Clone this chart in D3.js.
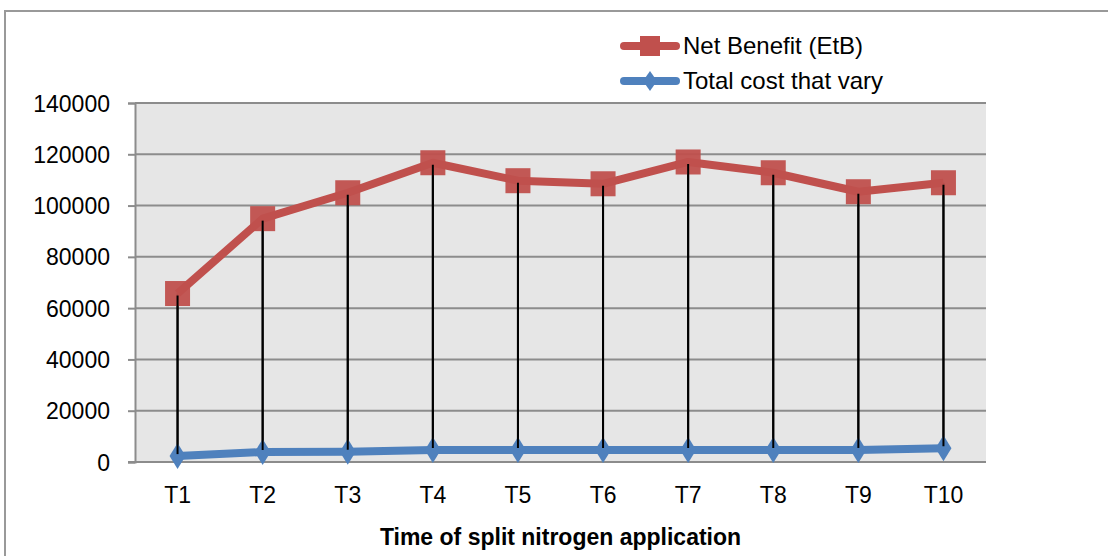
<!DOCTYPE html>
<html lang="en">
  <head>
    <script src="https://d3js.org/d3.v7.min.js"></script>
    <meta charset="utf-8"/>
    <title>Net benefit</title>
    <style>
      body { margin: 0; background: #fff; }
      text { font-family: "Liberation Sans", Arial, sans-serif; fill: #000; }
    </style>
  </head>
  <body>
    <svg id="chart"></svg>
  <script>
    const treatments = ["T1", "T2", "T3", "T4", "T5", "T6", "T7", "T8", "T9", "T10"];
    const netBenefit = [65700, 94900, 105000, 116700, 109700, 108500, 117000, 112800, 105400, 108900];
    const totalCost = [2300, 3900, 4000, 4700, 4700, 4700, 4700, 4700, 4700, 5400];
    const yTicks = [0, 20000, 40000, 60000, 80000, 100000, 120000, 140000];

    const W = 1108, H = 556;
    const plot = {left: 135, right: 986, top: 103, bottom: 462};

    const svg = d3.select("#chart")
      .attr("width", W)
      .attr("height", H);

    // outer frame (runs off the right and bottom edges)
    svg.append("path")
      .attr("d", `M5,${H + 5} V11 H${W + 5}`)
      .attr("fill", "none")
      .attr("stroke", "#999")
      .attr("stroke-width", 2);

    const x = d3.scaleBand()
      .domain(treatments)
      .range([plot.left, plot.right]);

    const y = d3.scaleLinear()
      .domain([0, 140000])
      .range([plot.bottom, plot.top]);

    svg.append("rect")
      .attr("x", plot.left)
      .attr("y", plot.top)
      .attr("width", plot.right - plot.left)
      .attr("height", plot.bottom - plot.top)
      .attr("fill", "#e6e6e6");

    // gridlines
    svg.append("g")
      .selectAll("line")
      .data(yTicks.slice(1))
      .join("line")
        .attr("x1", plot.left)
        .attr("x2", plot.right)
        .attr("y1", d => y(d))
        .attr("y2", d => y(d))
        .attr("stroke", "#8c8c8c")
        .attr("stroke-width", 2);

    // y axis
    const yAxis = svg.append("g")
      .attr("transform", `translate(${plot.left},0)`)
      .call(d3.axisLeft(y).tickValues(yTicks).tickSize(7).tickPadding(18).tickFormat(d3.format("d")));
    yAxis.select(".domain").attr("stroke", "#8c8c8c").attr("stroke-width", 2);
    yAxis.selectAll(".tick line").attr("stroke", "#8c8c8c").attr("stroke-width", 2);
    yAxis.selectAll("text")
      .style("font-size", "23px")
      .attr("dy", "0.35em");

    // x axis
    const xAxis = svg.append("g")
      .attr("transform", `translate(0,${plot.bottom})`)
      .call(d3.axisBottom(x).tickSize(0).tickPadding(25));
    xAxis.select(".domain")
      .attr("d", `M${plot.left - 7},0H${plot.right}`)
      .attr("stroke", "#8c8c8c").attr("stroke-width", 2);
    xAxis.selectAll("text").style("font-size", "23px");

    svg.append("text")
      .attr("x", (plot.left + plot.right) / 2)
      .attr("y", 545)
      .attr("text-anchor", "middle")
      .style("font-size", "23px")
      .style("font-weight", "bold")
      .text("Time of split nitrogen application");

    const cx = d => x(d) + x.bandwidth() / 2;

    // high-low lines
    svg.append("g")
      .selectAll("line")
      .data(treatments)
      .join("line")
        .attr("x1", cx)
        .attr("x2", cx)
        .attr("y1", (d, i) => y(netBenefit[i]))
        .attr("y2", (d, i) => y(totalCost[i]))
        .attr("stroke", "#000")
        .attr("stroke-width", 2);

    const red = "#c0504d", blue = "#4f81bd";
    const line = d3.line().x(d => cx(d[0])).y(d => y(d[1]));

    svg.append("path")
      .datum(treatments.map((t, i) => [t, netBenefit[i]]))
      .attr("d", line)
      .attr("fill", "none")
      .attr("stroke", red)
      .attr("stroke-width", 8)
      .attr("stroke-linejoin", "round");

    svg.append("path")
      .datum(treatments.map((t, i) => [t, totalCost[i]]))
      .attr("d", line)
      .attr("fill", "none")
      .attr("stroke", blue)
      .attr("stroke-width", 8)
      .attr("stroke-linejoin", "round");

    const sq = 25;
    const diamond = "M0,-13L8,0L0,13L-8,0Z";

    svg.append("g")
      .selectAll("rect")
      .data(treatments)
      .join("rect")
        .attr("x", d => cx(d) - sq / 2)
        .attr("y", (d, i) => y(netBenefit[i]) - sq / 2)
        .attr("width", sq)
        .attr("height", sq)
        .attr("fill", red)
        .attr("fill-opacity", 0.95);

    svg.append("g")
      .selectAll("path")
      .data(treatments)
      .join("path")
        .attr("d", diamond)
        .attr("transform", (d, i) => `translate(${cx(d)},${y(totalCost[i])})`)
        .attr("fill", blue);

    // redraw high-low lines on top of the markers, as in the reference
    svg.append("g")
      .selectAll("line")
      .data(treatments)
      .join("line")
        .attr("x1", cx)
        .attr("x2", cx)
        .attr("y1", (d, i) => y(netBenefit[i]) + 2)
        .attr("y2", (d, i) => y(totalCost[i]) - 2)
        .attr("stroke", "#000")
        .attr("stroke-width", 2);

    // legend
    const legend = [
      {name: "Net Benefit (EtB)", color: red, y: 46, marker: "square"},
      {name: "Total cost that vary", color: blue, y: 81, marker: "diamond"}
    ];
    const lg = svg.append("g");
    legend.forEach(l => {
      lg.append("line")
        .attr("x1", 624).attr("x2", 676)
        .attr("y1", l.y).attr("y2", l.y)
        .attr("stroke", l.color)
        .attr("stroke-width", 8)
        .attr("stroke-linecap", "round");
      if (l.marker === "square") {
        lg.append("rect")
          .attr("x", 650 - 10).attr("y", l.y - 10)
          .attr("width", 20).attr("height", 20)
          .attr("fill", l.color);
      } else {
        lg.append("path")
          .attr("d", "M0,-10L7,0L0,10L-7,0Z")
          .attr("transform", `translate(650,${l.y})`)
          .attr("fill", l.color);
      }
      lg.append("text")
        .attr("x", 683)
        .attr("y", l.y)
        .attr("dy", "0.35em")
        .style("font-size", "24px")
        .text(l.name);
    });
  </script>
  </body>
</html>
